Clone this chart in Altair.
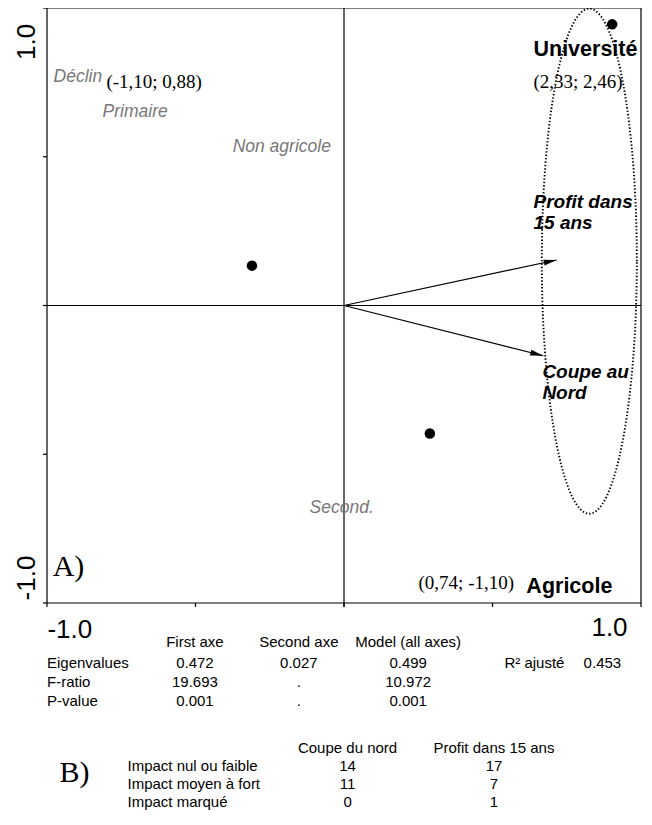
import math
import altair as alt
import pandas as pd

# ---------------- data ----------------
# site scores (filled dots)
site_x = [0.903, -0.310, 0.289]
site_y = [0.945, 0.134, -0.430]

# explanatory variables (arrows)
arrow_names = ["Profit dans 15 ans", "Coupe au Nord"]
arrow_x = [0.716, 0.671]
arrow_y = [0.153, -0.169]

# dotted ellipse (centre, radii)
ell_c = (0.826, 0.149)
ell_r = (0.160, 0.849)

# grey category labels
gray_text = ["Déclin", "Primaire", "Non agricole", "Second."]
gray_x = [-0.978, -0.813, -0.375, -0.116]
gray_y = [0.768, 0.650, 0.532, -0.681]

# bold labels
bold_text = ["Université", "Agricole"]
bold_x = [0.638, 0.614]
bold_y = [0.859, -0.946]

# bold italic variable labels
bi_text = ["Profit dans", "15 ans", "Coupe au", "Nord"]
bi_x = [0.638, 0.638, 0.668, 0.668]
bi_y = [0.348, 0.277, -0.224, -0.294]

# serif coordinate annotations
serif_text = ["(-1,10; 0,88)", "(2,33; 2,46)", "(0,74; -1,10)"]
serif_x = [-0.800, 0.638, 0.251]
serif_y = [0.751, 0.751, -0.933]

# table 1
t1_cols = ["First axe", "Second axe", "Model (all axes)"]
t1_rows = ["Eigenvalues", "F-ratio", "P-value"]
t1_vals = [["0.472", "0.027", "0.499"],
           ["19.693", ".", "10.972"],
           ["0.001", ".", "0.001"]]
r2_label = "R² ajusté"
r2_value = "0.453"

# table 2
t2_cols = ["Coupe du nord", "Profit dans 15 ans"]
t2_rows = ["Impact nul ou faible", "Impact moyen à fort", "Impact marqué"]
t2_vals = [[14, 17], [11, 7], [0, 1]]

# ---------------- layout ----------------
W = 594
H = 804
XU = W / 2.0          # px per unit, x
YU = 297.5            # px per unit, y
y_bottom = 1 - H / YU

xs = alt.Scale(domain=[-1, 1], nice=False, zero=False)
ys = alt.Scale(domain=[y_bottom, 1], nice=False, zero=False)
SANS = "Liberation Sans"
SERIF = "Liberation Serif"


def X(f="x"):
    return alt.X(f"{f}:Q", scale=xs, axis=None)


def Y(f="y"):
    return alt.Y(f"{f}:Q", scale=ys, axis=None)


def text_layer(texts, xs_, ys_, **kw):
    df = pd.DataFrame({"t": texts, "x": xs_, "y": ys_})
    return alt.Chart(df).mark_text(baseline="middle", **kw).encode(
        x=X(), y=Y(), text="t:N")


layers = []

# frame + centre cross
tk_y = 4 / YU
tk_x = 4 / XU
rules = pd.DataFrame({
    "x":  [-1, 1, -1, -1, 0, -1],
    "x2": [-1, 1, 1, 1, 0, 1],
    "y":  [-1, -1, 1, -1, -1 - tk_y, 0],
    "y2": [1, 1, 1, -1, 1, 0],
})
layers.append(alt.Chart(rules).mark_rule(color="black", strokeWidth=1.2).encode(
    x=X(), x2="x2:Q", y=Y(), y2="y2:Q"))

# ticks
ticks_v = [-1, -0.5, 0, 0.5, 1]
bt = pd.DataFrame({"x": ticks_v, "x2": ticks_v,
                   "y": [-1] * 5, "y2": [-1 - tk_y] * 5})
lt = pd.DataFrame({"x": [-1] * 5, "x2": [-1 - tk_x] * 5,
                   "y": ticks_v, "y2": ticks_v})
for d in (bt, lt):
    layers.append(alt.Chart(d).mark_rule(color="black", strokeWidth=1.2).encode(
        x=X(), x2="x2:Q", y=Y(), y2="y2:Q"))

# ellipse (dotted)
n = 240
ell = pd.DataFrame({
    "i": list(range(n + 1)),
    "x": [ell_c[0] + ell_r[0] * math.cos(2 * math.pi * k / n) for k in range(n + 1)],
    "y": [ell_c[1] + ell_r[1] * math.sin(2 * math.pi * k / n) for k in range(n + 1)],
})
layers.append(alt.Chart(ell).mark_line(color="black", strokeWidth=1.9,
                                       strokeDash=[1.4, 2.0]).encode(
    x=X(), y=Y(), order="i:Q"))

# arrows
arr = pd.DataFrame({"name": arrow_names, "x": arrow_x, "y": arrow_y,
                    "x0": [0, 0], "y0": [0, 0]})
arr["angle"] = [(math.degrees(math.atan2(-yy * YU, xx * XU)) + 360) % 360
                for xx, yy in zip(arrow_x, arrow_y)]
layers.append(alt.Chart(arr).mark_rule(color="black", strokeWidth=1.2).encode(
    x=X("x0"), y=Y("y0"), x2="x:Q", y2="y:Q"))
layers.append(alt.Chart(arr).mark_point(
    shape="M0,0 L-2,-0.45 L-2,0.45 Z", filled=True, color="black",
    opacity=1, size=169).encode(
    x=X(), y=Y(), angle=alt.Angle("angle:Q", scale=None)))

# sites
sites = pd.DataFrame({"x": site_x, "y": site_y})
layers.append(alt.Chart(sites).mark_circle(color="black", size=110, opacity=1).encode(
    x=X(), y=Y()))

# labels
layers.append(text_layer(gray_text, gray_x, gray_y, align="left", font=SANS,
                         fontSize=17.5, fontStyle="italic", color="#777777"))
layers.append(text_layer(bold_text, bold_x, bold_y, align="left", font=SANS,
                         fontSize=21.5, fontWeight="bold", color="black"))
layers.append(text_layer(bi_text, bi_x, bi_y, align="left", font=SANS,
                         fontSize=19, fontWeight="bold", fontStyle="italic",
                         color="black"))
layers.append(text_layer(serif_text, serif_x, serif_y, align="left", font=SERIF,
                         fontSize=19, color="black"))
layers.append(text_layer(["A)"], [-0.981], [-0.879], align="left", font=SERIF,
                         fontSize=30, color="black"))

# axis labels
layers.append(text_layer(["1.0", "-1.0"], [-1.069, -1.069], [0.886, -0.916],
                         align="center", font=SANS, fontSize=26, angle=270,
                         color="black"))
layers.append(text_layer(["-1.0", "1.0"], [-0.923, 0.894], [-1.091, -1.084],
                         align="center", font=SANS, fontSize=26, color="black"))

# table 1
t1_cx = [-0.502, -0.152, 0.216]
t1_hy = -1.131
t1_ry = [-1.202, -1.266, -1.330]
tl, tlx, tly = [], [], []
tc, tcx, tcy = [], [], []
for c, cx in zip(t1_cols, t1_cx):
    tc.append(c); tcx.append(cx); tcy.append(t1_hy)
for r, ry, vals in zip(t1_rows, t1_ry, t1_vals):
    tl.append(r); tlx.append(-1.0); tly.append(ry)
    for v, cx in zip(vals, t1_cx):
        tc.append(v); tcx.append(cx); tcy.append(ry)
tl.append(r2_label); tlx.append(0.540); tly.append(t1_ry[0])
tc.append(r2_value); tcx.append(0.870); tcy.append(t1_ry[0])

# table 2
t2_cx = [0.012, 0.505]
t2_hy = -1.487
t2_ry = [-1.547, -1.608, -1.668]
for c, cx in zip(t2_cols, t2_cx):
    tc.append(c); tcx.append(cx); tcy.append(t2_hy)
for r, ry, vals in zip(t2_rows, t2_ry, t2_vals):
    tl.append(r); tlx.append(-0.729); tly.append(ry)
    for v, cx in zip(vals, t2_cx):
        tc.append(str(v)); tcx.append(cx); tcy.append(ry)

layers.append(text_layer(tl, tlx, tly, align="left", font=SANS, fontSize=15,
                         color="black"))
layers.append(text_layer(tc, tcx, tcy, align="center", font=SANS, fontSize=15,
                         color="black"))
layers.append(text_layer(["B)"], [-0.958], [-1.572], align="left", font=SERIF,
                         fontSize=30, color="black"))

chart = alt.layer(*layers).properties(
    width=W, height=H,
    padding={"left": 39, "top": 0, "right": 3, "bottom": 0},
    autosize=alt.AutoSizeParams(type="none"),
).configure_view(stroke=None)

chart.save("out.html", embed_options={"renderer": "svg", "actions": False})
